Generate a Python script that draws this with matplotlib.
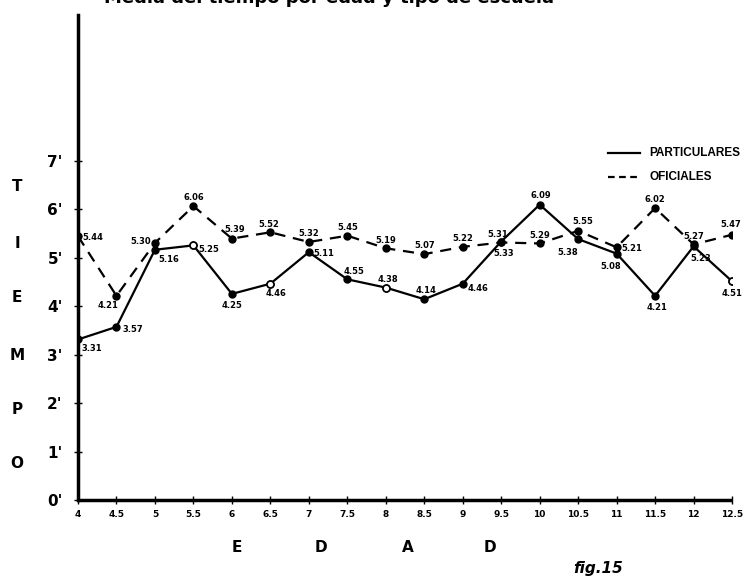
import matplotlib.pyplot as plt

# Edad (años)
edad = [4, 4.5, 5, 5.5, 6, 6.5, 7, 7.5, 8, 8.5, 9, 9.5, 10, 10.5, 11, 11.5, 12, 12.5]
edad_labels = ['4', '4.5', '5', '5.5', '6', '6.5', '7', '7.5', '8', '8.5', '9',
               '9.5', '10', '10.5', '11', '11.5', '12', '12.5']

# Media del tiempo
particulares = [3.31, 3.57, 5.16, 5.25, 4.25, 4.46, 5.11, 4.55, 4.38, 4.14, 4.46,
                5.33, 6.09, 5.38, 5.08, 4.21, 5.23, 4.51]
oficiales = [5.44, 4.21, 5.30, 6.06, 5.39, 5.52, 5.32, 5.45, 5.19, 5.07, 5.22,
             5.31, 5.29, 5.55, 5.21, 6.02, 5.27, 5.47]

tiempo_ticks = [0, 1, 2, 3, 4, 5, 6, 7]
tiempo_labels = ["0'", "1'", "2'", "3'", "4'", "5'", "6'", "7'"]

# label offsets (pixels) and alignment for each point
off_part = [(3, -9, 'left'), (6, -3, 'left'), (3, -10, 'left'), (5, -4, 'left'),
            (0, -12, 'center'), (6, -10, 'center'), (5, -1, 'left'), (7, 8, 'center'),
            (2, 8, 'center'), (2, 9, 'center'), (5, -5, 'left'), (2, -12, 'center'),
            (1, 9, 'center'), (-10, -13, 'center'), (-6, -13, 'center'), (2, -12, 'center'),
            (7, -12, 'center'), (0, -12, 'center')]
off_ofi = [(4, -1, 'left'), (-8, -10, 'center'), (-4, 1, 'right'), (0, 9, 'center'),
           (3, 9, 'center'), (-2, 8, 'center'), (0, 8, 'center'), (0, 8, 'center'),
           (0, 8, 'center'), (0, 9, 'center'), (0, 8, 'center'), (-3, 8, 'center'),
           (0, 8, 'center'), (5, 9, 'center'), (5, -1, 'left'), (0, 9, 'center'),
           (0, 8, 'center'), (-1, 10, 'center')]

open_part = [3, 5, 8, 17]

plt.rcParams['font.family'] = ['DejaVu Sans']

fig = plt.figure(figsize=(7.47, 5.77), dpi=100)
ax = fig.add_axes([0.1044, 0.1334, 0.8756, 0.8406])

ax.plot(edad, oficiales, color='black', lw=1.6, ls=(0, (5, 3.5)), marker='o',
        ms=5, zorder=3)
ax.plot(edad, particulares, color='black', lw=1.6, ls='-', marker='o', ms=5,
        zorder=4)
ax.plot([edad[i] for i in open_part], [particulares[i] for i in open_part], 'o',
        ms=5, mfc='white', mec='black', mew=1.2, zorder=5)

for x, y, (dx, dy, ha) in zip(edad, particulares, off_part):
    ax.annotate(f'{y:.2f}', (x, y), xytext=(dx, dy), textcoords='offset pixels',
                ha=ha, va='center', fontsize=6, fontweight='bold', zorder=6,
                annotation_clip=False)
for x, y, (dx, dy, ha) in zip(edad, oficiales, off_ofi):
    ax.annotate(f'{y:.2f}', (x, y), xytext=(dx, dy), textcoords='offset pixels',
                ha=ha, va='center', fontsize=6, fontweight='bold', zorder=6,
                annotation_clip=False)

ax.set_xlim(4, 12.5)
ax.set_ylim(0, 10)
ax.set_xticks(edad)
ax.set_xticklabels(edad_labels, fontsize=6.5, fontweight='bold')
ax.set_yticks(tiempo_ticks)
ax.set_yticklabels(tiempo_labels, fontsize=11, fontweight='bold')
ax.tick_params(axis='x', direction='inout', length=6, width=1, pad=4)
ax.tick_params(axis='y', direction='inout', length=6, width=1, pad=8)
for s in ['top', 'right']:
    ax.spines[s].set_visible(False)
ax.spines['left'].set_linewidth(2.5)
ax.spines['bottom'].set_linewidth(2.5)
ax.spines['bottom'].set_capstyle('butt')

# legend drawn by hand
ax.plot([10.89, 11.3], [7.15, 7.15], color='black', lw=1.6, clip_on=False)
ax.plot([10.89, 11.3], [6.66, 6.66], color='black', lw=1.6, ls=(0, (3, 2)),
        clip_on=False)
ax.text(11.43, 7.15, 'PARTICULARES', fontsize=8.5, fontweight='bold', va='center',
        family='Liberation Sans')
ax.text(11.43, 6.66, 'OFICIALES', fontsize=8.5, fontweight='bold', va='center',
        family='Liberation Sans')

fig.text(0.44, 1.003, 'Media del tiempo por edad y tipo de escuela', ha='center',
         va='center', fontsize=13, fontweight='bold')

for letra, ypix in zip('TIEMPO', [187, 243, 298, 355, 410, 463]):
    fig.text(17 / 747, 1 - ypix / 577, letra, ha='center', va='center',
             fontsize=11, fontweight='bold')
for letra, xpix in zip('EDAD', [237, 321, 408, 490]):
    fig.text(xpix / 747, 1 - 547 / 577, letra, ha='center', va='center',
             fontsize=11, fontweight='bold')
fig.text(598 / 747, 1 - 568 / 577, 'fig.15', ha='center', va='center',
         fontsize=11, fontweight='bold', style='italic')

fig.savefig('out.png', dpi=100)
